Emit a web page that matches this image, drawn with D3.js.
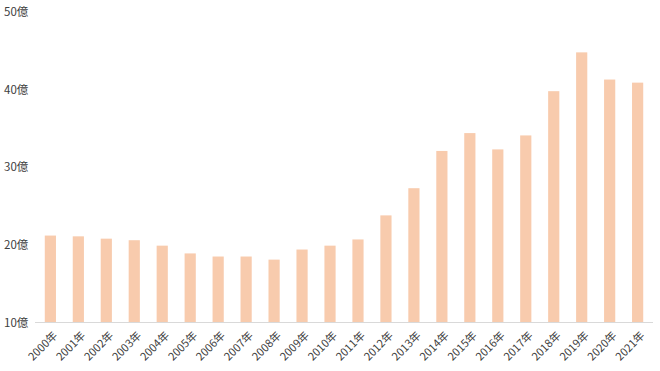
<!DOCTYPE html>
<html lang="ja">
  <head>
    <meta charset="UTF-8" />
    <title>chart</title>
    <script src="https://d3js.org/d3.v7.min.js"></script>
    <style>
      body { margin: 0; background: #fff; }
      text { font-family: "Noto Sans CJK JP", "Noto Sans", sans-serif; fill: #404040; }
    </style>
  </head>
  <body>
    <div id="chart"></div>
    <script>
      // data
      const years = [
        "2000年", "2001年", "2002年", "2003年", "2004年", "2005年",
        "2006年", "2007年", "2008年", "2009年", "2010年", "2011年",
        "2012年", "2013年", "2014年", "2015年", "2016年", "2017年",
        "2018年", "2019年", "2020年", "2021年",
      ];
      const values = [
        21.2, 21.1, 20.8, 20.6, 19.9, 18.9, 18.5, 18.5, 18.1, 19.4, 19.9,
        20.7, 23.8, 27.3, 32.1, 34.4, 32.3, 34.1, 39.8, 44.8, 41.3, 40.9,
      ];
      const yTicks = [10, 20, 30, 40, 50];

      var margin = { top: 12, right: 0, bottom: 48.5, left: 28 },
        width = 632,
        height = 371 - margin.top - margin.bottom;

      var svg = d3
        .select("#chart")
        .append("svg")
        .attr("width", 660)
        .attr("height", 371)
        .append("g")
        .attr("transform", "translate(" + margin.left + "," + margin.top + ")");

      var x = d3.scaleBand().range([0, width]).domain(years).padding(0.6);
      var y = d3.scaleLinear().range([height, 0]).domain([10, 50]);

      // y labels
      svg
        .selectAll(".ylab")
        .data(yTicks)
        .enter()
        .append("text")
        .attr("x", -24)
        .attr("y", (d) => y(d) + 4)
        .style("font-size", "11.5px")
        .text((d) => d + "億");

      // bars
      svg
        .selectAll("rect")
        .data(values)
        .enter()
        .append("rect")
        .attr("x", (d, i) => x(years[i]))
        .attr("y", (d) => y(d))
        .attr("width", x.bandwidth())
        .attr("height", (d) => y(10) - y(d))
        .style("fill", "#F8CBAD");

      // baseline
      svg
        .append("line")
        .attr("x1", 7)
        .attr("x2", 625)
        .attr("y1", y(10))
        .attr("y2", y(10))
        .style("stroke", "#D9D9D9")
        .style("stroke-width", 1);

      // x labels
      svg
        .selectAll(".xlab")
        .data(years)
        .enter()
        .append("text")
        .attr("transform", (d) =>
          "translate(" + (x(d) + x.bandwidth() / 2 + 5) + "," + (y(10) + 11) + ") rotate(-45)"
        )
        .attr("text-anchor", "end")
        .attr("dy", "0.35em")
        .style("font-size", "11px")
        .text((d) => d);
    </script>
  </body>
</html>
